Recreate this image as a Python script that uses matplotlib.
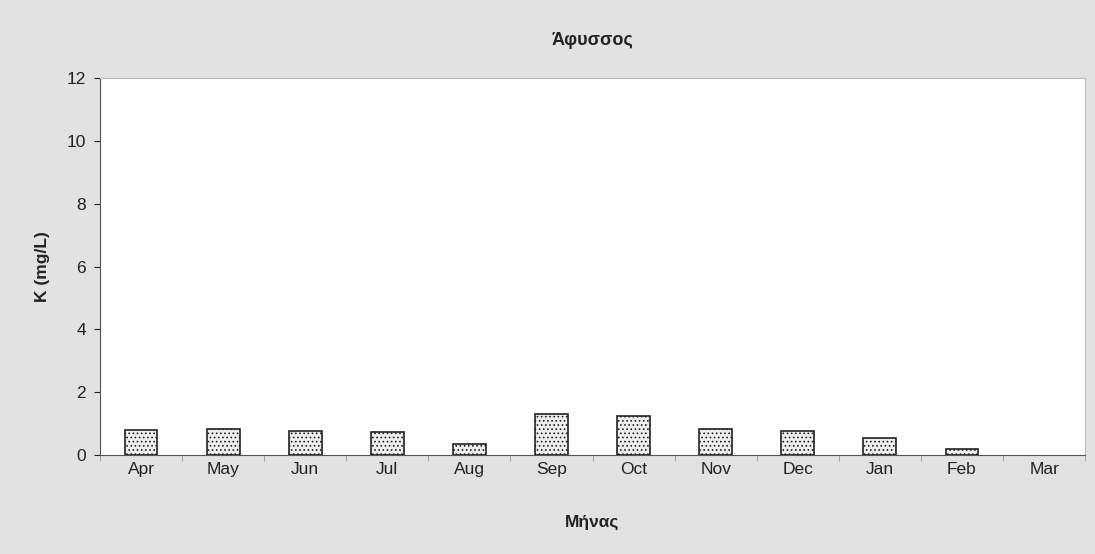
import numpy as np
import matplotlib.pyplot as plt

# Monthly K concentration values
months = ['Apr', 'May', 'Jun', 'Jul', 'Aug', 'Sep', 'Oct', 'Nov', 'Dec', 'Jan', 'Feb', 'Mar']
k_values = [0.81, 0.82, 0.75, 0.74, 0.35, 1.31, 1.25, 0.82, 0.77, 0.53, 0.18, 0.0]
y_ticks = [0, 2, 4, 6, 8, 10, 12]

plt.rcParams['font.family'] = ['Liberation Sans', 'DejaVu Sans']
plt.rcParams['hatch.color'] = '#888888'
plt.rcParams['hatch.linewidth'] = 0.7

fig = plt.figure(figsize=(10.95, 5.54), dpi=100)
fig.patch.set_facecolor('#e2e2e2')
ax = fig.add_axes([0.0913, 0.1787, 0.8997, 0.6803])
ax.set_facecolor('white')

x = np.arange(len(months))
vals = np.array(k_values)
# zero-height bars are not drawn in the original
shown = vals > 0
ax.bar(x[shown], vals[shown], width=0.4, color='#eeeeee', edgecolor='#222222',
       linewidth=1.2, hatch='....')

ax.set_xlim(-0.5, len(months) - 0.5)
ax.set_ylim(0, 12)
ax.set_yticks(y_ticks)
ax.set_xticks(x)
ax.set_xticklabels(months)
ax.set_xticks(np.arange(-0.5, len(months), 1), minor=True)
ax.tick_params(axis='x', which='major', length=0, pad=5, labelsize=12.5, colors='#222222')
ax.tick_params(axis='x', which='minor', length=4, color='#999999')
ax.tick_params(axis='y', length=4, labelsize=12.5, colors='#222222', pad=6)

for side in ['top', 'right']:
    ax.spines[side].set_color('#bbbbbb')
    ax.spines[side].set_linewidth(0.8)
ax.spines['left'].set_color('#555555')
ax.spines['bottom'].set_color('#555555')

ax.set_title('Άφυσσος', fontsize=13, fontweight='bold', pad=24, color='#222222')
ax.set_xlabel('Μήνας', fontsize=12.5, fontweight='bold', labelpad=27, color='#222222')
ax.set_ylabel('K (mg/L)', fontsize=12.5, fontweight='bold', labelpad=12, color='#222222')

fig.savefig('out.png', dpi=100, facecolor=fig.get_facecolor())
